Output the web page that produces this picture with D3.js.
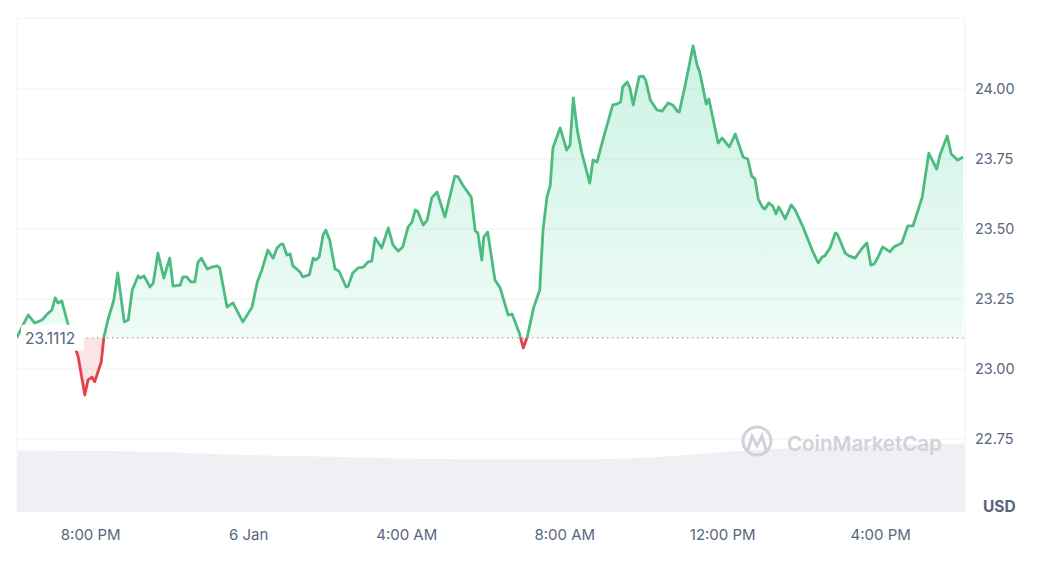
<!DOCTYPE html>
<html><head><meta charset="utf-8">
<script src="https://cdn.jsdelivr.net/npm/d3@7"></script>
<style>body{margin:0;background:#fff;font-family:Inter,"Noto Sans",sans-serif}</style>
</head><body><svg id="c" width="1044" height="566"></svg>
<script>
const startTime = "2025-01-05T18:08:00";
const priceMinutes = [0,17,27,38,46,53,58,62,68,77,93,103,108,114,118,128,132,138,147,153,163,169,175,184,187,193,202,207,214,223,232,237,248,252,258,264,270,275,280,289,296,304,308,319,328,343,357,365,372,381,389,395,401,404,410,415,419,425,430,434,444,450,454,459,465,469,475,483,489,500,503,510,518,526,533,539,544,554,564,571,579,586,594,600,605,609,617,623,630,638,650,665,670,677,690,696,700,706,709,715,726,734,746,752,763,769,775,785,794,799,805,810,814,825,835,840,845,851,858,870,875,881,890,905,911,917,920,927,931,936,945,951,955,962,972,980,989,996,1003,1006,1015,1027,1033,1037,1047,1051,1065,1071,1082,1091,1103,1110,1116,1121,1126,1132,1136,1142,1148,1153,1157,1167,1176,1182,1194,1209,1217,1223,1227,1235,1243,1246,1258,1264,1273,1284,1291,1297,1302,1308,1315,1326,1332,1344,1353,1361,1375,1385,1397,1402,1413,1419,1429,1437];
const priceValues = [23.114,23.193,23.164,23.175,23.196,23.211,23.254,23.236,23.243,23.164,23.043,22.907,22.961,22.971,22.954,23.025,23.114,23.175,23.246,23.343,23.168,23.175,23.282,23.332,23.325,23.332,23.293,23.307,23.414,23.325,23.396,23.296,23.300,23.329,23.329,23.311,23.311,23.382,23.396,23.357,23.364,23.368,23.361,23.221,23.236,23.168,23.221,23.311,23.354,23.425,23.396,23.432,23.446,23.446,23.407,23.411,23.368,23.357,23.346,23.329,23.336,23.396,23.389,23.400,23.479,23.496,23.461,23.357,23.350,23.293,23.296,23.343,23.361,23.364,23.382,23.386,23.468,23.432,23.504,23.443,23.421,23.436,23.507,23.525,23.568,23.561,23.514,23.532,23.611,23.632,23.543,23.689,23.686,23.657,23.614,23.493,23.486,23.389,23.471,23.489,23.318,23.289,23.193,23.196,23.129,23.075,23.114,23.221,23.282,23.496,23.614,23.657,23.789,23.861,23.782,23.800,23.968,23.854,23.771,23.664,23.746,23.739,23.818,23.943,23.946,23.954,24.007,24.025,24.004,23.943,24.043,24.046,24.032,23.961,23.925,23.921,23.950,23.943,23.921,23.918,24.014,24.154,24.086,24.061,23.946,23.964,23.807,23.825,23.793,23.839,23.757,23.750,23.689,23.679,23.607,23.579,23.571,23.593,23.582,23.554,23.579,23.536,23.586,23.568,23.507,23.418,23.379,23.400,23.404,23.432,23.486,23.482,23.414,23.404,23.396,23.432,23.450,23.371,23.375,23.400,23.436,23.418,23.436,23.450,23.511,23.511,23.614,23.771,23.714,23.764,23.832,23.768,23.746,23.757];
const baselinePrice = 23.1112;
const volumeMinutes = [0,120,240,360,480,600,720,840,960,1080,1200,1320,1440];
const volumeValues = [88,87,85,81,79,76,75,75,78,86,92,96,98];
const yTicks = [22.75,23.00,23.25,23.50,23.75,24.00];
const xTickTimes = ["2025-01-05T20:00:00","2025-01-06T00:00:00","2025-01-06T04:00:00","2025-01-06T08:00:00","2025-01-06T12:00:00","2025-01-06T16:00:00"];
const xTickLabels = ["8:00 PM","6 Jan","4:00 AM","8:00 AM","12:00 PM","4:00 PM"];

const svg = d3.select("#c");
const L=17,R=965,T=18,B=512;
const t0 = new Date(startTime);
const data = priceMinutes.map((m,i)=>({t:new Date(t0.getTime()+m*60000),v:priceValues[i]}));
const vol = volumeMinutes.map((m,i)=>({t:new Date(t0.getTime()+m*60000),v:volumeValues[i]}));
const x = d3.scaleTime().domain([t0,new Date(t0.getTime()+1440*60000)]).range([L,R]);
const y = d3.scaleLinear().domain([22.75,24]).range([439,89]);
const yv = d3.scaleLinear().domain([0,100]).range([B,442]);
const by = y(baselinePrice);

const defs = svg.append("defs");
const gg = defs.append("linearGradient").attr("id","gg").attr("x1",0).attr("x2",0).attr("y1",0).attr("y2",1);
gg.append("stop").attr("offset","0%").attr("stop-color","#16c784").attr("stop-opacity",0.22);
gg.append("stop").attr("offset","100%").attr("stop-color","#16c784").attr("stop-opacity",0.04);
const rg = defs.append("linearGradient").attr("id","rg").attr("x1",0).attr("x2",0).attr("y1",0).attr("y2",1);
rg.append("stop").attr("offset","0%").attr("stop-color","#ea3943").attr("stop-opacity",0.25);
rg.append("stop").attr("offset","100%").attr("stop-color","#ea3943").attr("stop-opacity",0.12);
defs.append("clipPath").attr("id","above").append("rect").attr("x",L).attr("y",0).attr("width",R-L).attr("height",by);
defs.append("clipPath").attr("id","below").append("rect").attr("x",L).attr("y",by).attr("width",R-L).attr("height",B-by);

svg.append("path").datum(vol).attr("fill","#eff0f3")
  .attr("d",d3.area().x(d=>x(d.t)).y0(B).y1(d=>yv(d.v)).curve(d3.curveMonotoneX));

svg.selectAll(".g").data(yTicks).enter().append("line")
  .attr("x1",L).attr("x2",R).attr("y1",d=>y(d)).attr("y2",d=>y(d)).attr("stroke","#eff2f5");
svg.append("line").attr("x1",L).attr("x2",R).attr("y1",T).attr("y2",T).attr("stroke","#f1f3f6");
svg.append("line").attr("x1",R).attr("x2",R).attr("y1",T).attr("y2",B).attr("stroke","#eff2f5");
svg.append("line").attr("x1",L).attr("x2",L).attr("y1",T).attr("y2",B).attr("stroke","#f4f5f7");

const wm = svg.append("g");
wm.append("circle").attr("cx",757).attr("cy",441).attr("r",14).attr("fill","none").attr("stroke","#cfd3da").attr("stroke-width",3);
wm.append("path").attr("d","M748,450 L752,436 L757,446 L762,436 L766,450").attr("fill","none").attr("stroke","#cfd3da").attr("stroke-width",3);
wm.append("text").attr("x",787).attr("y",451).text("CoinMarketCap").attr("fill","#cfd3da").attr("font-size",20.5).attr("font-weight",600);

const area = d3.area().x(d=>x(d.t)).y0(by).y1(d=>y(d.v));
const line = d3.line().x(d=>x(d.t)).y(d=>y(d.v));
svg.append("path").datum(data).attr("d",area).attr("fill","url(#gg)").attr("clip-path","url(#above)");
svg.append("path").datum(data).attr("d",area).attr("fill","url(#rg)").attr("clip-path","url(#below)");
svg.append("path").datum(data).attr("d",line).attr("fill","none").attr("stroke","#4cbb80").attr("stroke-width",2.8).attr("stroke-linejoin","round").attr("clip-path","url(#above)");
svg.append("path").datum(data).attr("d",line).attr("fill","none").attr("stroke","#e0434b").attr("stroke-width",2.8).attr("stroke-linejoin","round").attr("clip-path","url(#below)");

svg.append("line").attr("x1",L).attr("x2",R).attr("y1",by).attr("y2",by).attr("stroke","#9aa1ad").attr("stroke-width",1.3).attr("stroke-dasharray","1.3,3.7");
svg.append("rect").attr("x",21).attr("y",by-13).attr("width",63).attr("height",26).attr("fill","#fff").attr("rx",3);
svg.append("text").attr("x",25).attr("y",by+6).text(baselinePrice.toFixed(4)).attr("fill","#58667e").attr("font-size",15.5);

svg.selectAll(".yl").data(yTicks).enter().append("text").attr("x",975).attr("y",d=>y(d)+5)
  .text(d=>d.toFixed(2)).attr("fill","#58667e").attr("font-size",14.5);
svg.append("text").attr("x",983).attr("y",512).text("USD").attr("fill","#58667e").attr("font-size",15.5).attr("font-weight",700);
svg.selectAll(".xl").data(xTickTimes).enter().append("text").attr("x",d=>x(new Date(d))).attr("y",540)
  .attr("text-anchor","middle").text((d,i)=>xTickLabels[i]).attr("fill","#58667e").attr("font-size",15);
</script></body></html>
